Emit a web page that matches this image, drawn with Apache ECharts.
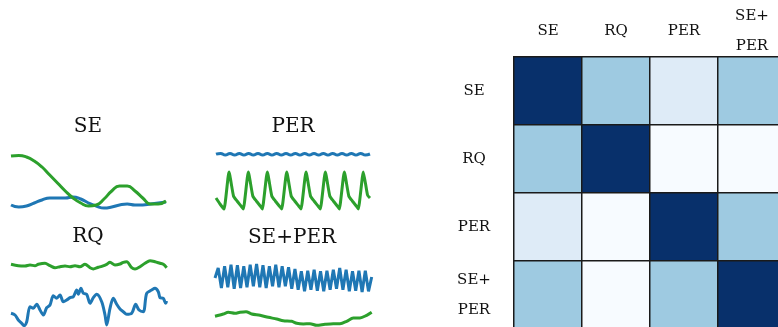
<!DOCTYPE html>
<html><head><meta charset="utf-8">
<script src="https://cdn.jsdelivr.net/npm/echarts@6/dist/echarts.min.js"></script>
<style>html,body{margin:0;padding:0;background:#fff}#c{width:778px;height:327px}</style>
</head><body><div id="c"></div><script>
// ---- data ----
const kernelNames = ['SE', 'RQ', 'PER', 'SE+PER'];
const tickLabels = ['SE', 'RQ', 'PER', 'SE+\nPER'];
const similarity = [
  [1.0, 0.5, 0.2, 0.5],
  [0.5, 1.0, 0.0, 0.0],
  [0.2, 0.0, 1.0, 0.5],
  [0.5, 0.0, 0.5, 1.0]
];
// SE samples (uniform time steps)
const seGreen = [59, 59.5, 58, 54, 48, 40, 32, 24, 17, 12, 9, 10, 16, 24, 29, 29, 24, 17, 11, 11, 14];
const seBlue  = [10, 8, 9, 12, 15, 17, 17, 17, 18, 16, 12, 9, 7, 8, 10, 11, 10, 10, 11, 12, 13];
// PER samples
const perBlue = [60.8, 61.6, 60.0, 61.6, 60.0, 61.6, 60.0, 61.6, 60.0, 61.6, 60.0, 61.6, 60.0, 61.6, 60.0, 61.6, 60.0,
                 61.6, 60.0, 61.6, 60.0, 61.6, 60.0, 61.6, 60.0, 61.6, 60.0, 61.6, 60.0, 61.6, 60.0, 61.6, 60.0, 61.0];
const perGreen = [[0,17],[4,11],[8,6],
  [13,43],[17.5,19],[21,14],[25,9],[27.3,6],
  [32.3,43],[36.8,19],[40.3,14],[44.3,9],[46.3,6],
  [51.3,43],[55.8,19],[59.3,14],[63.3,9],[65.7,6],
  [70.7,43],[75.2,19],[78.7,14],[82.7,9],[85,6],
  [90,43],[94.5,19],[98,14],[102,9],[104.3,6],
  [109.3,43],[113.8,19],[117.3,14],[121.3,9],[123.3,6],
  [128.3,43],[132.8,19],[136.3,14],[140.3,9],[142.3,6],
  [147.3,43],[151.5,20],[154,17]];
// RQ samples
const rqGreen = [[0,62.7],[7.3,61.3],[14,61],[19,62],[24,61.3],[27.3,62.7],[34,63.7],[39,61.3],[44,59.3],[49,60.3],
  [54,61],[59,60.3],[64,61.3],[69,60.3],[74,62.7],[79,59.3],[82.3,58],[87.3,59.7],[90.7,60.7],[95.7,62.7],
  [99,64.7],[104,62],[109,63],[112.3,64.7],[115.7,65.3],[120.7,59.3],[124,58],[129,60.3],[134,63.7],[139,66.3],
  [144,65.3],[149,63.7],[152.3,62.7],[155.7,59.3]];
const rqBlue = [[0,13.7],[4,12],[7.3,7],[10.7,3.7],[13.3,1.3],[15.7,5.3],[19,20.3],[22.3,18.7],[25.7,22.7],[29,17],
  [32.3,12],[35.7,19.3],[39,22],[42.3,31.3],[45.7,28.7],[49,32],[52.3,25.3],[55.7,27],[59,29.3],[62.3,30.3],
  [65.7,37],[67.3,32.7],[70,38.7],[72.3,33.7],[75.7,32.7],[79,23.7],[82.3,29.3],[85.7,32.7],[90.7,25.3],[94,12],
  [95.7,2],[99,18.7],[102.3,28.7],[105.7,22.7],[109,18],[112.3,15.3],[115.7,12.7],[120.7,13.7],[124.7,22.7],[128,17],
  [132.3,15.3],[135.7,33.7],[140.7,37],[144,38.7],[147.3,35.3],[149,29.3],[152.3,28.7],[154.7,23.7],[155.7,26]];
// SE+PER samples
const sePerBlue = [49, 59,39, 60.7,39.7, 62.3,38.3, 61.7,39, 60.7,39.7, 62.3,40.7, 63,39.7, 61.7,39, 60.7,40.7,
  62.3,39.7, 60.7,40.7, 59.7,38.3, 58,37.3, 55.7,35.7, 56.3,37.3, 57.3,36.3, 55.7,35.7, 56.3,37.3, 57.3,38.3,
  59,37.3, 57.3,35.7, 55.7,36.3, 56.3,35, 56.3,35.7, 50];
const sePerGreen = [[0,10.7],[8.3,13],[13.3,14.7],[20,13.7],[25,14.7],[31,15.3],[36.7,13],[45,11.7],[53.3,9.7],
  [61.7,8],[68.3,6.3],[76.7,5.7],[81.7,3.7],[88.3,3],[95,3.3],[101.7,1.7],[110,2.7],[118.3,3.3],[125,3.3],
  [131.7,5.7],[138.3,9],[145,9],[151.7,11.7],[156.7,14.7]];

// ---- chart ----
const BLUE = '#1f77b4', GREEN = '#2ca02c';
const SERIF = 'DejaVu Serif';
const chart = echarts.init(document.getElementById('c'), null, {renderer: 'canvas'});

const panels = [
  {box: {left: 11, top: 145, width: 155, height: 70}, ymax: 70, data: seBlue, color: BLUE, cat: true, smooth: true},
  {box: {left: 11, top: 145, width: 155, height: 70}, ymax: 70, data: seGreen, color: GREEN, cat: true, smooth: true},
  {box: {left: 216, top: 145, width: 154, height: 70}, ymax: 70, data: perBlue, color: BLUE, cat: true, smooth: true},
  {box: {left: 216, top: 145, width: 154, height: 70}, ymax: 70, data: perGreen, color: GREEN, xmax: 154, smooth: 0.15},
  {box: {left: 11, top: 255, width: 155.7, height: 72}, ymax: 72, data: rqGreen, color: GREEN, xmax: 155.7, smooth: 0.3},
  {box: {left: 11, top: 255, width: 155.7, height: 72}, ymax: 72, data: rqBlue, color: BLUE, xmax: 155.7, smooth: 0.3},
  {box: {left: 215, top: 258, width: 156.7, height: 69}, ymax: 69, data: sePerBlue, color: BLUE, cat: true},
  {box: {left: 215, top: 258, width: 156.7, height: 69}, ymax: 69, data: sePerGreen, color: GREEN, xmax: 156.7, smooth: 0.3}
];

const grid = [], xAxis = [], yAxis = [], series = [];
panels.forEach((p, i) => {
  grid.push(Object.assign({containLabel: false, outerBoundsMode: 'none'}, p.box));
  if (p.cat) {
    xAxis.push({gridIndex: i, type: 'category', boundaryGap: false, show: false,
                data: p.data.map((_, k) => k)});
  } else {
    xAxis.push({gridIndex: i, type: 'value', min: 0, max: p.xmax, show: false});
  }
  yAxis.push({gridIndex: i, type: 'value', min: 0, max: p.ymax, show: false});
  series.push({type: 'line', xAxisIndex: i, yAxisIndex: i, data: p.data, showSymbol: false,
               smooth: p.smooth || false, clip: false,
               lineStyle: {color: p.color, width: 3}, itemStyle: {color: p.color}, silent: true, animation: false});
});

// heatmap
const hmIndex = panels.length;
grid.push({left: 514, top: 57, width: 272, height: 272, containLabel: false, outerBoundsMode: 'none'});
const labelStyle = {fontFamily: SERIF, fontSize: 15, color: '#111', lineHeight: 30};
xAxis.push({gridIndex: hmIndex, type: 'category', data: tickLabels, position: 'top',
  axisLine: {show: false}, axisTick: {show: false}, splitLine: {show: false},
  axisLabel: Object.assign({margin: 26, verticalAlign: 'middle', interval: 0}, labelStyle)});
yAxis.push({gridIndex: hmIndex, type: 'category', data: tickLabels, inverse: true,
  axisLine: {show: false}, axisTick: {show: false}, splitLine: {show: false},
  axisLabel: Object.assign({margin: 40, align: 'center', interval: 0}, labelStyle)});
const hmData = [];
similarity.forEach((row, r) => row.forEach((v, c) => hmData.push([c, r, v])));
series.push({type: 'heatmap', xAxisIndex: hmIndex, yAxisIndex: hmIndex, data: hmData,
  itemStyle: {borderColor: '#1a1a1a', borderWidth: 1.5}, silent: true, animation: false});

const titleStyle = {fontFamily: SERIF, fontSize: 20, fontWeight: 'normal', color: '#111'};
chart.setOption({
  animation: false,
  backgroundColor: '#fff',
  title: [
    {text: kernelNames[0], left: 88, top: 117, textAlign: 'center', textStyle: titleStyle, padding: 0},
    {text: kernelNames[2], left: 293, top: 117, textAlign: 'center', textStyle: titleStyle, padding: 0},
    {text: kernelNames[1], left: 88, top: 227, textAlign: 'center', textStyle: titleStyle, padding: 0},
    {text: kernelNames[3], left: 292, top: 228, textAlign: 'center', textStyle: titleStyle, padding: 0}
  ],
  visualMap: {type: 'piecewise', show: false, seriesIndex: hmIndex, dimension: 2,
    pieces: [
      {min: 0.9, color: '#08306b'},
      {min: 0.4, max: 0.9, color: '#9ecae1'},
      {min: 0.1, max: 0.4, color: '#deebf7'},
      {max: 0.1, color: '#f7fbff'}
    ]},
  grid, xAxis, yAxis, series
});
</script></body></html>
